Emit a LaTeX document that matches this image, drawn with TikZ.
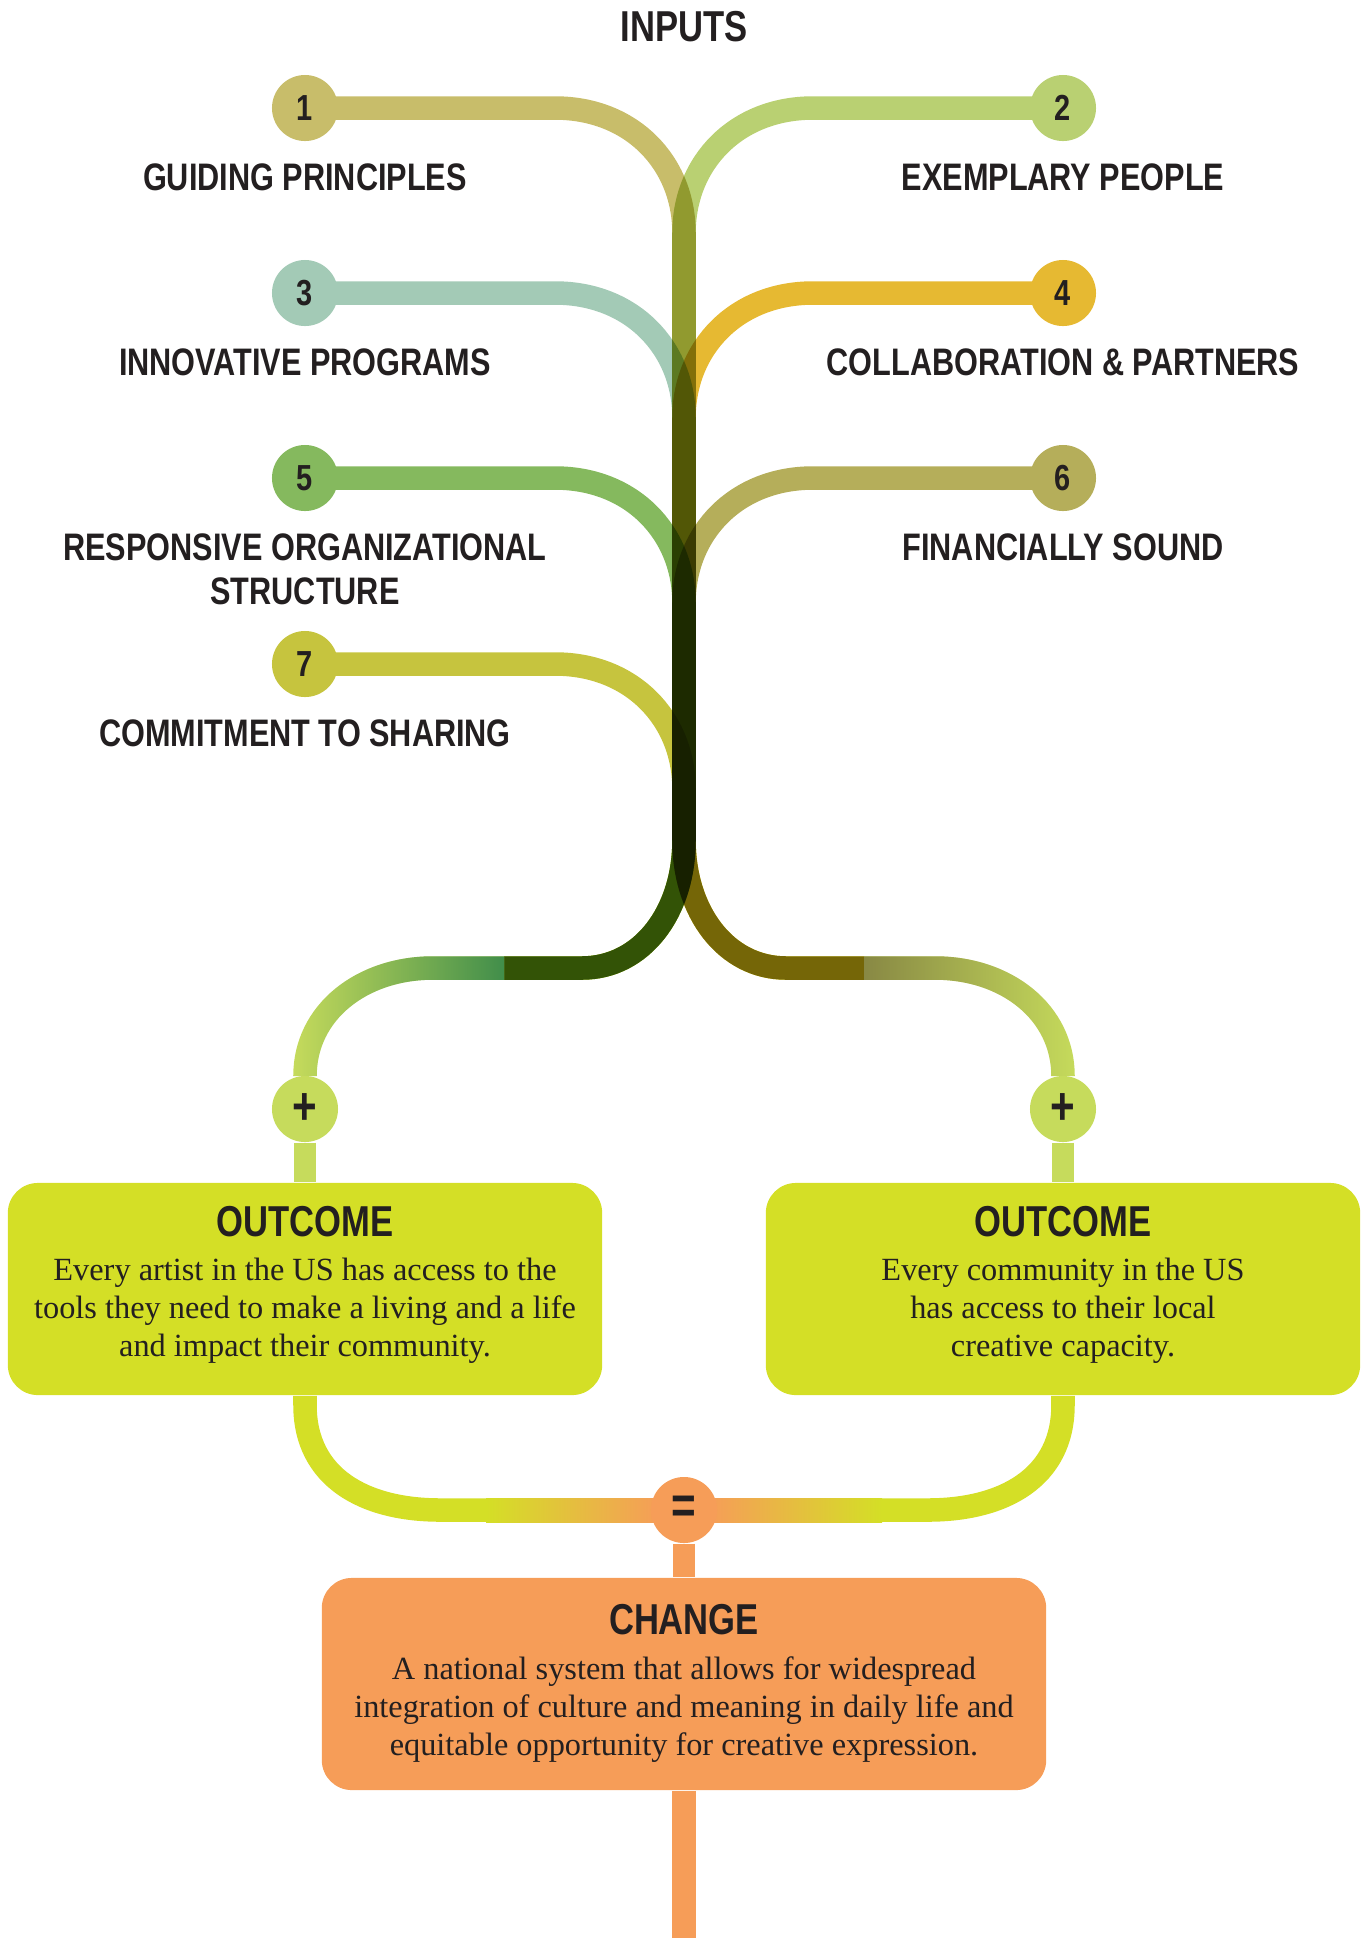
\documentclass[tikz,border=0pt]{standalone}
\usepackage{fontspec}
\newfontfamily\condfont[FakeStretch=0.8]{Liberation Sans}
\newfontfamily\serifbody{Liberation Serif}
\usetikzlibrary{positioning,fadings,backgrounds}

\definecolor{inkdark}   {RGB}{ 35, 31, 32}
\definecolor{inguide}   {RGB}{200,189,106}
\definecolor{inpeople}  {RGB}{185,208,114}
\definecolor{inprog}    {RGB}{163,202,182}
\definecolor{inpartner} {RGB}{230,185, 50}
\definecolor{instruct}  {RGB}{133,185, 94}
\definecolor{infinance} {RGB}{181,174, 90}
\definecolor{inshare}   {RGB}{198,196, 62}
\definecolor{plusgreen} {RGB}{198,219, 92}
\definecolor{outlime}   {RGB}{212,223, 38}
\definecolor{chgorange} {RGB}{246,157, 88}
\definecolor{fadegreen} {RGB}{ 58,138, 74}
\definecolor{fadeolive} {RGB}{133,132, 67}

\tikzfading[name=fadewest,left color=transparent!100,right color=transparent!0]
\tikzfading[name=fadeeast,left color=transparent!0,right color=transparent!100]

\tikzset{
  numdot/.style={circle,minimum size=0.66cm,inner sep=0pt,text=inkdark,
                 font=\condfont\bfseries\fontsize{10.3}{12}\selectfont},
  inlbl/.style={align=center,inner sep=0pt,text=inkdark,
                font=\condfont\bfseries\fontsize{10.9}{12.6}\selectfont},
  inwire/.style={line width=0.235cm,blend mode=multiply},
  limewire/.style={line width=0.235cm,draw=plusgreen},
  stub/.style={line width=0.21cm},
  opdot/.style={circle,minimum size=0.66cm,inner sep=0pt,text=inkdark,
                font=\condfont\bfseries\fontsize{15}{16}\selectfont},
  card/.style={rounded corners=0.3cm,minimum height=2.12cm,inner sep=0pt},
  cardhead/.style={inner sep=0pt,text=inkdark,
                   font=\condfont\bfseries\fontsize{12.3}{14}\selectfont},
  cardtext/.style={align=center,inner sep=0pt,text=inkdark,
                   font=\serifbody\fontsize{9.2}{10.81}\selectfont},
}

\begin{document}
\begin{tikzpicture}[x=0.01cm,y=-0.01cm]
  \useasboundingbox (0,0) rectangle (1367,1938);
  % title
  \node[cardhead] (inputs) at (684,27) {INPUTS};
  % numbered inputs
  \node[numdot,fill=inguide]   (in1) at (305,108) {1};
  \node[numdot,fill=inpeople]  (in2) at (1063,108) {2};
  \node[numdot,fill=inprog]    (in3) at (305,293) {3};
  \node[numdot,fill=inpartner] (in4) at (1063,293) {4};
  \node[numdot,fill=instruct]  (in5) at (305,478) {5};
  \node[numdot,fill=infinance] (in6) at (1063,478) {6};
  \node[numdot,fill=inshare]   (in7) at (305,664) {7};
  % labels under the dots
  \node[inlbl,below=0.21cm of in1] (lbl1) {GUIDING PRINCIPLES};
  \node[inlbl,below=0.21cm of in2] (lbl2) {EXEMPLARY PEOPLE};
  \node[inlbl,below=0.21cm of in3] (lbl3) {INNOVATIVE PROGRAMS};
  \node[inlbl,below=0.21cm of in4] (lbl4) {COLLABORATION \& PARTNERS};
  \node[inlbl,below=0.21cm of in5] (lbl5) {RESPONSIVE ORGANIZATIONAL\\STRUCTURE};
  \node[inlbl,below=0.21cm of in6] (lbl6) {FINANCIALLY SOUND};
  \node[inlbl,below=0.21cm of in7] (lbl7) {COMMITMENT TO SHARING};

  % joints
  \node[opdot,fill=plusgreen] (plusL) at (305,1109) {+};
  \node[opdot,fill=plusgreen] (plusR) at (1063,1109) {+};
  \node[opdot,fill=chgorange] (eq) at (684,1510) {=};

  % outcome cards
  \node[card,fill=outlime,minimum width=5.94cm] (outL) at (305,1289) {};
  \node[card,fill=outlime,minimum width=5.94cm] (outR) at (1063,1289) {};
  \node[cardhead,below=0.235cm of outL.north] (headL) {OUTCOME};
  \node[cardhead,below=0.235cm of outR.north] (headR) {OUTCOME};
  \node[cardtext,below=0.2cm of headL] (textL)
    {Every artist in the US has access to the\\tools they need to make a living and a life\\and impact their community.};
  \node[cardtext,below=0.2cm of headR] (textR)
    {Every community in the US\\has access to their local\\creative capacity.};

  % change card
  \node[card,fill=chgorange,minimum width=7.24cm] (chg) at (684,1684) {};
  \node[cardhead,below=0.265cm of chg.north] (headC) {CHANGE};
  \node[cardtext,below=0.2cm of headC] (textC)
    {A national system that allows for widespread\\integration of culture and meaning in daily life and\\equitable opportunity for creative expression.};

  % branch points
  \coordinate (splitT) at (684,840);
  \coordinate (darkL) at (504,968);
  \coordinate (darkR) at (864,968);
  \coordinate (lowL) at (486,1510);
  \coordinate (lowR) at (882,1510);
  \coordinate (tail) at (684,1938);

  \begin{scope}[on background layer]
    % left inputs run down the stem and out to the left
    \foreach \n/\y/\c in {1/108/inguide,3/293/inprog,5/478/instruct,7/664/inshare}
      \draw[inwire,draw=\c] (in\n.center) -- (555,\y)
        .. controls (632,\y) and (684,\y+55) .. (684,\y+125) -- (splitT)
        .. controls (684,912) and (642,968) .. (582,968) -- (darkL);
    % right inputs run down the stem and out to the right
    \foreach \n/\y/\c in {2/108/inpeople,4/293/inpartner,6/478/infinance}
      \draw[inwire,draw=\c] (in\n.center) -- (813,\y)
        .. controls (736,\y) and (684,\y+55) .. (684,\y+125) -- (splitT)
        .. controls (684,912) and (726,968) .. (786,968) -- (darkR);

    % faded branches down to the plus joints
    \draw[limewire] (darkL) -- (433,968) .. controls (362,968) and (305,1012) .. (305,1076) -- (plusL);
    \draw[limewire,draw=fadegreen,path fading=fadewest]
      (darkL) -- (433,968) .. controls (362,968) and (305,1012) .. (305,1076) -- (plusL);
    \draw[limewire] (darkR) -- (935,968) .. controls (1006,968) and (1063,1012) .. (1063,1076) -- (plusR);
    \draw[limewire,draw=fadeolive,path fading=fadeeast]
      (darkR) -- (935,968) .. controls (1006,968) and (1063,1012) .. (1063,1076) -- (plusR);
    \draw[stub,draw=plusgreen] (plusL) -- (outL);
    \draw[stub,draw=plusgreen] (plusR) -- (outR);

    % outcomes join at the equals sign
    \draw[limewire,draw=outlime] (outL.south) -- (305,1405)
      .. controls (305,1478) and (365,1510) .. (440,1510) -- (lowL);
    \draw[limewire,draw=outlime] (outR.south) -- (1063,1405)
      .. controls (1063,1478) and (1003,1510) .. (928,1510) -- (lowR);
    \shade[left color=outlime,right color=chgorange] (486,1498) rectangle (660,1522);
    \shade[left color=chgorange,right color=outlime] (708,1498) rectangle (882,1522);
    \draw[stub,draw=chgorange] (eq) -- (chg);
    \draw[limewire,draw=chgorange] (chg) -- (tail);
  \end{scope}
\end{tikzpicture}
\end{document}
